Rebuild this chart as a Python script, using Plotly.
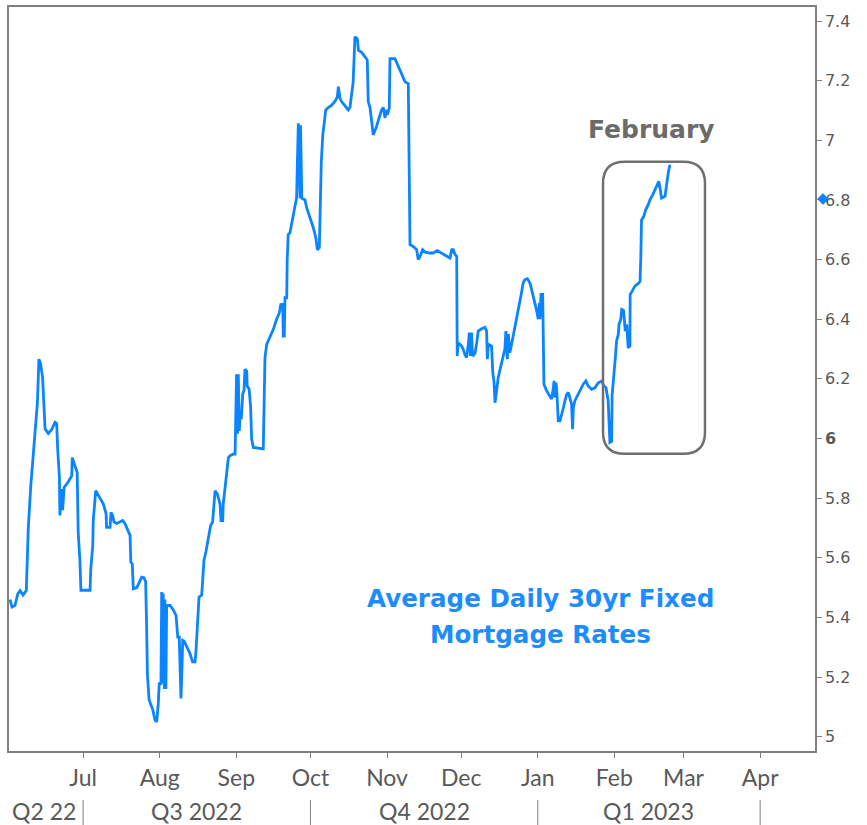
import pandas as pd
import plotly.graph_objects as go

# ---------------- data ----------------
start_date = "2022-06-01"
days_since_start = [
    0.4, 1.2, 2.4, 3.6, 4.5, 5.7, 7.0, 7.3, 7.8, 8.8,
    9.4, 10.1, 10.8, 11.5, 12.1, 12.8, 13.6, 14.6, 15.9, 17.3,
    18.6, 19.3, 19.7, 20.4, 20.6, 21.3, 21.7, 22.3, 24.0, 25.4,
    25.6, 26.7, 27.6, 28.0, 28.7, 29.1, 32.8, 33.1, 33.9, 34.1,
    35.1, 36.8, 38.2, 39.3, 39.5, 40.9, 41.3, 42.0, 42.5, 43.6,
    44.9, 46.0, 46.9, 48.3, 49.0, 49.3, 49.9, 50.3, 51.7, 52.3,
    53.7, 54.6, 55.3, 55.7, 56.0, 56.7, 57.3, 58.2, 59.1, 59.8,
    60.4, 60.8, 61.5, 61.8, 62.2, 62.4, 62.9, 63.1, 63.5, 63.8,
    65.2, 66.5, 67.6, 68.3, 68.9, 69.2, 69.6, 70.0, 70.3, 70.9,
    71.9, 73.2, 74.3, 75.3, 75.7, 76.2, 76.9, 78.0, 78.4, 78.9,
    79.7, 80.3, 81.1, 81.6, 82.4, 83.0, 83.4, 84.3, 85.4, 85.8,
    86.5, 86.7, 87.4, 88.1, 88.8, 89.4, 90.8, 91.5, 91.9, 92.1,
    92.5, 92.8, 93.2, 93.5, 94.0, 94.6, 95.1, 95.5, 96.2, 96.4,
    97.2, 97.8, 98.2, 98.9, 102.9, 103.2, 103.4, 103.6, 104.3, 105.6,
    107.0, 108.3, 109.4, 110.0, 110.8, 111.0, 111.4, 111.7, 112.4, 112.6,
    113.0, 113.7, 114.4, 115.1, 115.7, 116.4, 116.7, 117.1, 117.8, 118.0,
    118.5, 119.8, 120.5, 121.8, 123.2, 124.2, 124.8, 125.6, 125.9, 126.4,
    127.0, 127.5, 128.2, 129.2, 130.6, 131.9, 132.9, 133.3, 134.0, 134.6,
    136.0, 137.3, 138.0, 138.7, 139.3, 140.0, 141.0, 141.4, 142.7, 144.1,
    145.0, 145.4, 146.1, 146.8, 147.4, 148.5, 149.5, 150.8, 151.5, 152.2,
    152.6, 153.1, 153.9, 154.2, 156.2, 157.5, 158.5, 159.6, 160.3, 161.6,
    162.0, 162.1, 162.3, 163.6, 165.0, 165.6, 166.6, 167.4, 168.4, 170.4,
    171.7, 173.3, 174.4, 175.8, 177.1, 178.5, 179.2, 179.8, 180.5, 181.2,
    181.4, 181.8, 183.2, 183.8, 184.5, 185.2, 185.9, 186.3, 186.8, 187.2,
    187.6, 188.6, 189.3, 189.9, 191.3, 192.6, 193.3, 193.6, 194.0, 195.3,
    195.8, 196.3, 196.7, 197.4, 198.0, 198.7, 199.4, 200.0, 200.7, 201.1,
    201.7, 202.1, 202.7, 203.4, 204.1, 204.8, 205.5, 206.1, 206.8, 207.4,
    208.1, 208.8, 209.8, 210.8, 211.5, 212.2, 212.9, 213.6, 214.2, 214.6,
    214.9, 215.3, 216.0, 216.3, 216.5, 217.6, 218.7, 219.6, 220.3, 220.6,
    221.0, 221.4, 221.7, 221.9, 222.3, 223.0, 223.7, 224.4, 225.0, 225.7,
    226.4, 227.0, 227.7, 228.1, 228.4, 229.0, 229.7, 231.1, 232.4, 233.5,
    234.4, 235.8, 237.1, 238.5, 239.9, 240.8, 241.6, 242.5, 242.9, 243.2,
    243.9, 244.1, 244.5, 244.9, 245.5, 245.9, 246.6, 246.9, 247.6, 248.0,
    248.7, 249.1, 249.4, 250.0, 250.6, 251.3, 251.4, 252.2, 253.3, 254.7,
    255.4, 255.7, 256.0, 256.9, 257.7, 258.7, 259.4, 260.5, 261.4, 262.4,
    263.0, 263.5, 264.1, 265.5, 265.9, 266.4, 266.9, 267.5,
]
rates = [
    5.46, 5.435, 5.44, 5.48, 5.49, 5.475, 5.49, 5.564, 5.698, 5.84,
    5.909, 5.979, 6.054, 6.12, 6.266, 6.25, 6.204, 6.032, 6.017, 6.03,
    6.054, 6.05, 5.965, 5.87, 5.742, 5.83, 5.76, 5.836, 5.855, 5.875,
    5.936, 5.91, 5.886, 5.686, 5.591, 5.491, 5.491, 5.563, 5.641, 5.725,
    5.825, 5.80, 5.78, 5.747, 5.702, 5.702, 5.752, 5.74, 5.72, 5.715,
    5.72, 5.725, 5.715, 5.69, 5.675, 5.585, 5.58, 5.496, 5.50, 5.51,
    5.535, 5.533, 5.52, 5.374, 5.212, 5.123, 5.11, 5.09, 5.056, 5.05,
    5.11, 5.178, 5.178, 5.485, 5.178, 5.48, 5.16, 5.46, 5.16, 5.44,
    5.44, 5.425, 5.407, 5.334, 5.334, 5.229, 5.128, 5.229, 5.323, 5.32,
    5.30, 5.28, 5.251, 5.251, 5.29, 5.374, 5.468, 5.475, 5.53, 5.591,
    5.62, 5.652, 5.68, 5.708, 5.72, 5.769, 5.825, 5.814, 5.78, 5.725,
    5.725, 5.78, 5.836, 5.881, 5.936, 5.942, 5.948, 5.948, 6.07, 6.215,
    6.016, 6.215, 6.025, 6.07, 6.065, 6.15, 6.16, 6.232, 6.226, 6.176,
    6.165, 6.104, 5.998, 5.97, 5.965, 6.115, 6.232, 6.271, 6.316, 6.338,
    6.366, 6.40, 6.421, 6.449, 6.45, 6.343, 6.343, 6.472, 6.472, 6.60,
    6.684, 6.69, 6.728, 6.75, 6.778, 6.806, 6.918, 7.057, 6.806, 7.05,
    6.806, 6.80, 6.773, 6.74, 6.706, 6.672, 6.633, 6.64, 6.784, 6.929,
    7.018, 7.063, 7.102, 7.11, 7.118, 7.13, 7.146, 7.18, 7.14, 7.13,
    7.115, 7.102, 7.11, 7.157, 7.196, 7.347, 7.34, 7.302, 7.295, 7.28,
    7.269, 7.13, 7.11, 7.063, 7.018, 7.04, 7.068, 7.102, 7.11, 7.075,
    7.102, 7.085, 7.107, 7.274, 7.274, 7.25, 7.23, 7.21, 7.196, 7.19,
    6.918, 6.656, 6.65, 6.644, 6.633, 6.60, 6.615, 6.633, 6.625, 6.622,
    6.622, 6.63, 6.625, 6.617, 6.61, 6.605, 6.633, 6.633, 6.617, 6.611,
    6.277, 6.321, 6.31, 6.30, 6.282, 6.271, 6.316, 6.355, 6.277, 6.355,
    6.277, 6.285, 6.321, 6.36, 6.368, 6.373, 6.36, 6.266, 6.316, 6.31,
    6.221, 6.19, 6.12, 6.17, 6.204, 6.23, 6.254, 6.27, 6.30, 6.36,
    6.266, 6.35, 6.288, 6.316, 6.344, 6.377, 6.40, 6.427, 6.455, 6.488,
    6.522, 6.533, 6.536, 6.522, 6.50, 6.477, 6.455, 6.427, 6.40, 6.455,
    6.40, 6.483, 6.483, 6.338, 6.182, 6.16, 6.145, 6.132, 6.17, 6.193,
    6.137, 6.187, 6.16, 6.132, 6.059, 6.059, 6.087, 6.104, 6.126, 6.148,
    6.154, 6.137, 6.115, 6.031, 6.104, 6.126, 6.137, 6.16, 6.182, 6.193,
    6.176, 6.165, 6.17, 6.187, 6.193, 6.176, 6.171, 6.126, 6.059, 5.987,
    5.99, 6.148, 6.182, 6.237, 6.282, 6.327, 6.349, 6.383, 6.40, 6.433,
    6.43, 6.394, 6.36, 6.383, 6.304, 6.31, 6.483, 6.494, 6.511, 6.52,
    6.527, 6.605, 6.733, 6.745, 6.767, 6.784, 6.80, 6.817, 6.834, 6.856,
    6.862, 6.84, 6.806, 6.812, 6.84, 6.868, 6.895, 6.918,
]

month_ticks = ["2022-07-01", "2022-08-01", "2022-09-01", "2022-10-01", "2022-11-01",
               "2022-12-01", "2023-01-01", "2023-02-01", "2023-03-01", "2023-04-01"]
month_labels = ["Jul", "Aug", "Sep", "Oct", "Nov", "Dec", "Jan", "Feb", "Mar", "Apr"]

quarter_bounds = ["2022-07-01", "2022-10-01", "2023-01-01", "2023-04-01"]
quarter_label_dates = ["2022-06-15", "2022-08-16", "2022-11-16", "2023-02-15"]
quarter_labels = ["Q2 22", "Q3 2022", "Q4 2022", "Q1 2023"]

y_ticks = [5.0, 5.2, 5.4, 5.6, 5.8, 6.0, 6.2, 6.4, 6.6, 6.8, 7.0, 7.2, 7.4]
y_labels = ["5", "5.2", "5.4", "5.6", "5.8", "<b>6</b>", "6.2", "6.4", "6.6", "6.8", "7", "7.2", "7.4"]

x_range = ["2022-06-01", "2023-04-23 05:00"]
y_range = [4.952, 7.447]

marker_value = 6.805  # value flagged by the diamond on the right axis

# ---------------- figure ----------------
dates = pd.Timestamp(start_date) + pd.to_timedelta(days_since_start, unit="D")

LINE_BLUE = "#0a84ff"
GRAY = "#808080"
TICK_GRAY = "#595959"

fig = go.Figure()
fig.add_trace(go.Scatter(x=dates, y=rates, mode="lines",
                         line=dict(color=LINE_BLUE, width=2.8), hoverinfo="skip"))

# diamond flag on the right axis
fig.add_annotation(x=1.0095, y=marker_value, xref="paper", yref="y", text="\u25C6",
                   showarrow=False, xanchor="center", yanchor="middle",
                   font=dict(family="DejaVu Sans", size=15, color=LINE_BLUE))

# quarter separators and labels
for qb in quarter_bounds:
    fig.add_shape(type="line", xref="x", yref="paper", x0=qb, x1=qb,
                  y0=-0.066, y1=-0.1, line=dict(color=GRAY, width=1))
for qd, ql in zip(quarter_label_dates, quarter_labels):
    fig.add_annotation(x=qd, y=-0.081, xref="x", yref="paper", text=ql,
                       showarrow=False, yanchor="middle",
                       font=dict(family="Lato", size=23, color=TICK_GRAY))

# rounded box around February
x0, x1, y0, y1 = 0.737, 0.8635, 0.3995, 0.792
rx, ry = 0.027, 0.029
path = (f"M {x0+rx},{y0} L {x1-rx},{y0} Q {x1},{y0} {x1},{y0+ry} "
        f"L {x1},{y1-ry} Q {x1},{y1} {x1-rx},{y1} L {x0+rx},{y1} "
        f"Q {x0},{y1} {x0},{y1-ry} L {x0},{y0+ry} Q {x0},{y0} {x0+rx},{y0} Z")
fig.add_shape(type="path", xref="paper", yref="paper", path=path,
              line=dict(color="#6f6f6f", width=2.5))

fig.add_annotation(x="2023-02-16", y=7.035, xref="x", yref="y", text="<b>February</b>",
                   showarrow=False, font=dict(family="DejaVu Sans", size=25, color="#6b6b6b"))
fig.add_annotation(x="2023-01-02", y=5.464, xref="x", yref="y",
                   text="<b>Average Daily 30yr Fixed</b>", showarrow=False,
                   font=dict(family="DejaVu Sans", size=24.6, color="#1c8cff"))
fig.add_annotation(x="2023-01-02", y=5.344, xref="x", yref="y",
                   text="<b>Mortgage Rates</b>", showarrow=False,
                   font=dict(family="DejaVu Sans", size=24.6, color="#1c8cff"))

fig.update_layout(
    width=867, height=825,
    margin=dict(l=9, r=52, t=5, b=74),
    paper_bgcolor="white", plot_bgcolor="white",
    showlegend=False,
    xaxis=dict(type="date", range=x_range, tickvals=month_ticks, ticktext=month_labels,
               ticks="outside", ticklen=5, tickcolor=GRAY, tickwidth=1,
               showline=True, mirror=True, linecolor=GRAY, linewidth=1.5,
               showgrid=False, zeroline=False, ticklabelstandoff=1,
               tickfont=dict(family="Lato", size=23, color=TICK_GRAY)),
    yaxis=dict(side="right", range=y_range, tickvals=y_ticks, ticktext=y_labels,
               ticks="outside", ticklen=5, tickcolor=GRAY, tickwidth=1,
               showline=True, mirror=True, linecolor=GRAY, linewidth=1.5,
               showgrid=False, zeroline=False,
               tickfont=dict(family="DejaVu Sans", size=16, color=TICK_GRAY)),
)

fig.write_html("out.html", config={"displayModeBar": False},
               post_script="document.body.style.margin='0';document.body.style.padding='0';")
